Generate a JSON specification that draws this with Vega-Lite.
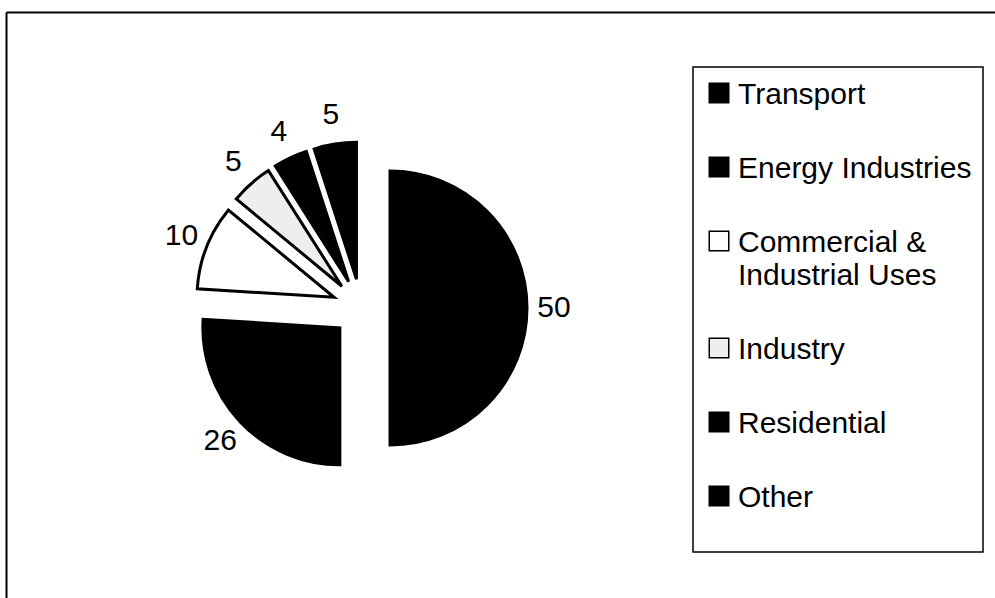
{
  "$schema": "https://vega.github.io/schema/vega-lite/v6.json",
  "width": 989,
  "height": 586,
  "autosize": "none",
  "padding": {"left": 6, "top": 12, "right": 0, "bottom": 0},
  "background": "#ffffff",
  "view": {"stroke": null},
  "config": {"font": "Liberation Sans"},
  "data": {
    "values": [
      {"category": "Transport", "value": 50},
      {"category": "Energy Industries", "value": 26},
      {"category": "Commercial & Industrial Uses", "value": 10},
      {"category": "Industry", "value": 5},
      {"category": "Residential", "value": 4},
      {"category": "Other", "value": 5}
    ]
  },
  "transform": [
    {"window": [{"op": "sum", "field": "value", "as": "cum"}], "frame": [null, 0], "ignorePeers": true},
    {"joinaggregate": [{"op": "sum", "field": "value", "as": "total"}]},
    {"calculate": "(datum.cum - datum.value) / datum.total", "as": "startf"},
    {"calculate": "datum.cum / datum.total", "as": "endf"},
    {"calculate": "(datum.startf + datum.endf) * PI", "as": "mid"},
    {"calculate": "29 * sin(datum.mid)", "as": "dx"},
    {"calculate": "-29 * cos(datum.mid)", "as": "dy"},
    {"calculate": "193 * sin(datum.mid)", "as": "lx"},
    {"calculate": "-195 * cos(datum.mid)", "as": "ly"}
  ],
  "layer": [
    {
      "mark": {"type": "arc", "outerRadius": 137, "stroke": "#000000", "strokeWidth": 3, "strokeJoin": "miter"},
      "encoding": {
        "theta": {"field": "startf", "type": "quantitative", "stack": null, "scale": {"domain": [0, 1], "range": [0, 6.283185307]}},
        "theta2": {"field": "endf"},
        "x": {
          "field": "dx",
          "type": "quantitative",
          "scale": {"domain": [-355, 634], "nice": false, "zero": false},
          "axis": {"orient": "top", "domain": true, "domainColor": "#000000", "domainWidth": 2, "ticks": false, "labels": false, "grid": false, "title": null}
        },
        "y": {
          "field": "dy",
          "type": "quantitative",
          "scale": {"domain": [-296, 290], "nice": false, "zero": false, "reverse": true},
          "axis": {"orient": "left", "domain": true, "domainColor": "#000000", "domainWidth": 2, "ticks": false, "labels": false, "grid": false, "title": null}
        },
        "color": {
          "field": "category",
          "type": "nominal",
          "sort": null,
          "scale": {
            "domain": ["Transport", "Energy Industries", "Commercial & Industrial Uses", "Industry", "Residential", "Other"],
            "range": ["#000000", "#000000", "#ffffff", "#eeeeee", "#000000", "#000000"]
          },
          "legend": {
            "orient": "none",
            "legendX": 687,
            "legendY": 55,
            "title": " ",
            "titleOrient": "bottom",
            "titleFontSize": 24,
            "titlePadding": 4,
            "symbolType": "square",
            "symbolSize": 380,
            "symbolStrokeColor": "#000000",
            "symbolStrokeWidth": 1.5,
            "symbolOpacity": 1,
            "labelFont": "Liberation Sans",
            "labelFontSize": 30,
            "labelColor": "#000000",
            "labelLimit": 400,
            "labelOffset": 4,
            "labelBaseline": "top",
            "rowPadding": 42,
            "padding": 11,
            "strokeColor": "#000000",
            "labelExpr": "datum.label == 'Commercial & Industrial Uses' ? ['Commercial &', 'Industrial Uses'] : datum.label",
            "encode": {
              "labels": {"update": {"dy": {"value": -13}, "lineHeight": {"value": 33}}},
              "legend": {"update": {"strokeWidth": {"value": 1.5}}}
            }
          }
        }
      }
    },
    {
      "mark": {"type": "text", "fontSize": 30, "font": "Liberation Sans", "color": "#000000", "align": "center", "baseline": "middle"},
      "encoding": {
        "x": {"field": "lx", "type": "quantitative"},
        "y": {"field": "ly", "type": "quantitative"},
        "text": {"field": "value", "type": "quantitative"}
      }
    }
  ]
}
